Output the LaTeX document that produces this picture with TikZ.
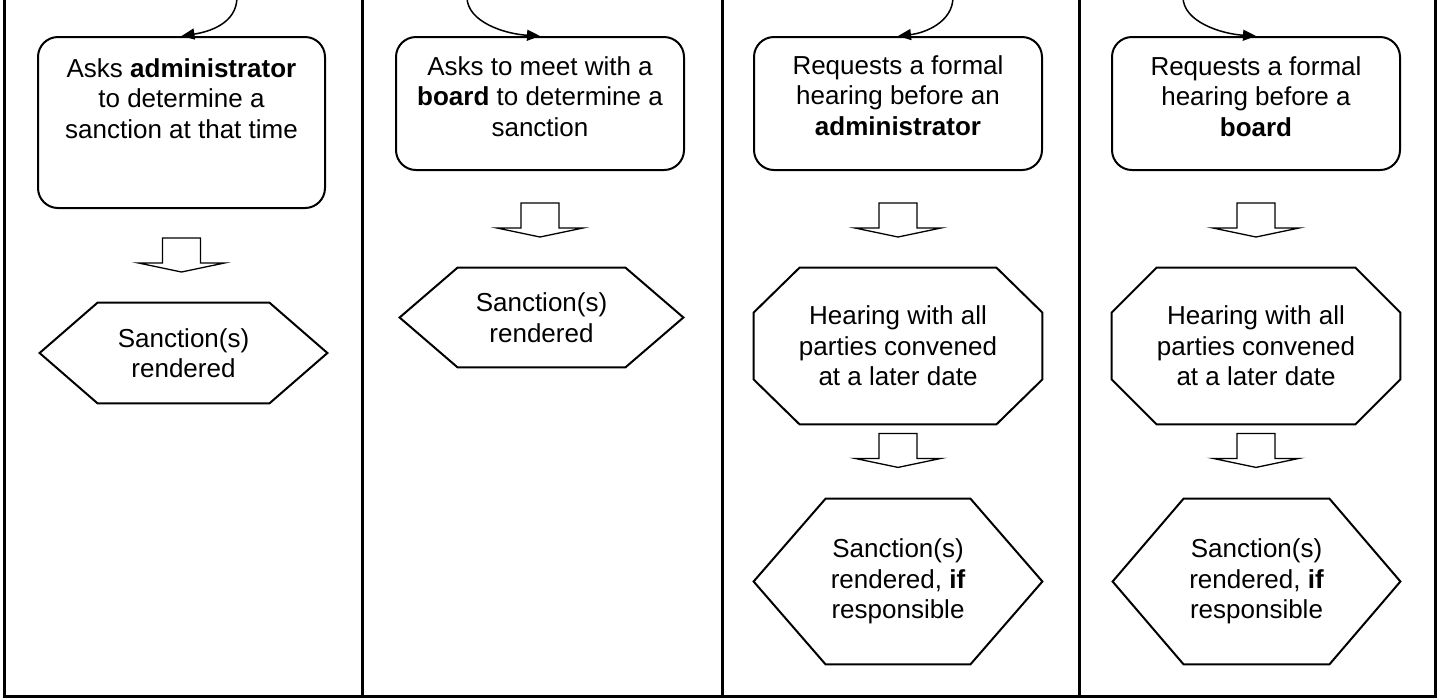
\documentclass[tikz,border=0pt]{standalone}
\usepackage{fontspec}
\setmainfont{Liberation Sans}
\usetikzlibrary{arrows.meta,calc}
\newcommand\hexdraw[2]{\draw[outline] (#1.west) -- ([xshift=#2]#1.north west) -- ([xshift=-#2]#1.north east) -- (#1.east) -- ([xshift=-#2]#1.south east) -- ([xshift=#2]#1.south west) -- cycle;}
\newcommand\octdraw[3]{\draw[outline] ([yshift=-#3]#1.north west) -- ([xshift=#2]#1.north west) -- ([xshift=-#2]#1.north east) -- ([yshift=-#3]#1.north east) -- ([yshift=#3]#1.south east) -- ([xshift=-#2]#1.south east) -- ([xshift=#2]#1.south west) -- ([yshift=#3]#1.south west) -- cycle;}
\newcommand\blockarrow[2]{\draw[blockarr] ($(#1.south)+(0,#2)$) ++(-19,0) -- ++(0,25) -- ++(-24,0) -- ++(43,9) -- ++(43,-9) -- ++(-24,0) -- ++(0,-25) -- cycle;}
\begin{document}
\begin{tikzpicture}[x=0.5pt,y=-0.5pt,
  every node/.style={font=\fontsize{13}{15.25}\selectfont},
  frame/.style={line width=1.5pt},
  outline/.style={line width=1pt,line join=miter},
  blockarr/.style={line width=0.65pt,fill=white,line join=miter},
  curvearr/.style={line width=0.75pt,-{Triangle[length=6.5pt,width=5.5pt]}},
  rbox/.style={draw,line width=1pt,rounded corners=10pt,inner sep=0pt,minimum width=144pt},
  txt/.style={align=center,inner sep=0pt},
  shapebox/.style={align=center,inner sep=0pt}]
\useasboundingbox (0,0) rectangle (1437,698);
% frame lines
\draw[frame] (4,-3) -- (4,696) -- (1435,696) -- (1435,-3);
\draw[frame] (362,-3) -- (362,696);
\draw[frame] (722,-3) -- (722,696);
\draw[frame] (1079.5,-3) -- (1079.5,696);
% top boxes
\node[rbox,minimum width=143.5pt,minimum height=85.5pt] (b1) at (181.5,122.5) {};
\node[rbox,minimum height=66.5pt] (b2) at (540,103.5) {};
\node[rbox,minimum height=66.5pt] (b3) at (898,103.5) {};
\node[rbox,minimum height=66.5pt] (b4) at (1256,103.5) {};
\node[txt] (b1t) at ([yshift=12pt]b1.center) {Asks \textbf{administrator}\\to determine a\\sanction at that time};
\node[txt] (b2t) at ([yshift=3.5pt]b2.center) {Asks to meet with a\\\textbf{board} to determine a\\sanction};
\node[txt] (b3t) at ([yshift=4pt]b3.center) {Requests a formal\\hearing before an\\\textbf{administrator}};
\node[txt] (b4t) at ([yshift=3.5pt]b4.center) {Requests a formal\\hearing before a\\\textbf{board}};
% incoming curves
\coordinate (c1) at (237,-3);
\coordinate (c2) at (467,-3);
\coordinate (c3) at (953,-3);
\coordinate (c4) at (1183,-3);
\draw[curvearr] (c1) .. controls (237,24) and (208,32) .. (b1.north);
\draw[curvearr] (c2) .. controls (467,22) and (505,34) .. (b2.north);
\draw[curvearr] (c3) .. controls (953,22) and (925,33) .. (b3.north);
\draw[curvearr] (c4) .. controls (1183,22) and (1222,34) .. (b4.north);
% hexagons and octagons
\node[shapebox,minimum width=143.5pt,minimum height=50pt] (h1) at (183.5,353) {Sanction(s)\\rendered};
\hexdraw{h1}{29pt}
\node[shapebox,minimum width=141.5pt,minimum height=49.5pt] (h2) at (541.5,317.5) {Sanction(s)\\rendered};
\hexdraw{h2}{29pt}
\node[shapebox,minimum width=144pt,minimum height=78pt] (o3) at (898,346) {Hearing with all\\parties convened\\at a later date};
\octdraw{o3}{23pt}{22.5pt}
\node[shapebox,minimum width=144pt,minimum height=78pt] (o4) at (1256,346) {Hearing with all\\parties convened\\at a later date};
\octdraw{o4}{22.5pt}{22.5pt}
\node[shapebox,minimum width=144pt,minimum height=82.5pt] (h3) at (898,581.5) {Sanction(s)\\rendered, \textbf{if}\\responsible};
\hexdraw{h3}{36pt}
\node[shapebox,minimum width=143.5pt,minimum height=82.5pt] (h4) at (1256.5,581.5) {Sanction(s)\\rendered, \textbf{if}\\responsible};
\hexdraw{h4}{35.5pt}
% block arrows
\blockarrow{b1}{29}
\blockarrow{b2}{32}
\blockarrow{b3}{32}
\blockarrow{b4}{32}
\blockarrow{o3}{9}
\blockarrow{o4}{9}
\end{tikzpicture}
\end{document}
